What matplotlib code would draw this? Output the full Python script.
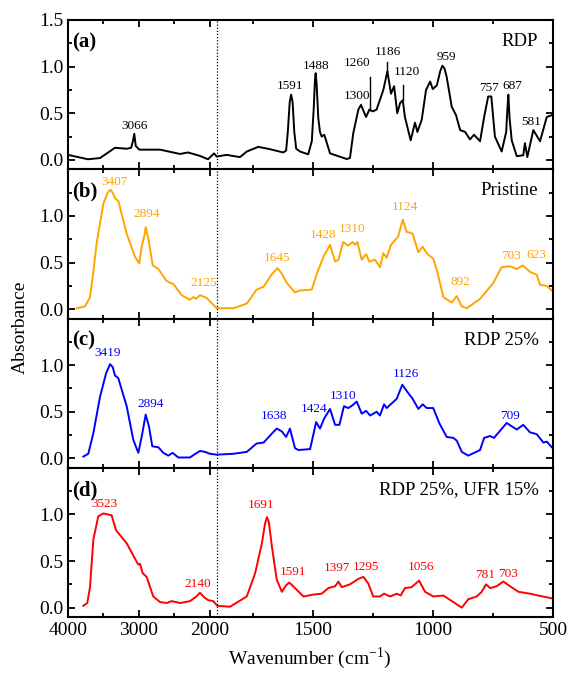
import numpy as np
import matplotlib
matplotlib.use("Agg")
import matplotlib.pyplot as plt
from matplotlib.ticker import FixedLocator, NullFormatter

plt.rcParams['font.family'] = ['Liberation Serif', 'DejaVu Serif']
plt.rcParams['mathtext.fontset'] = 'custom'
plt.rcParams['mathtext.rm'] = 'Liberation Serif'

# ---------------- data ----------------
wn_a = [4000, 3718, 3549, 3338, 3173, 3110, 3085, 3066, 3045, 2995, 2703, 2421, 2309, 2140, 2027, 1942, 1905,
        1860, 1804, 1776, 1728, 1679, 1624, 1612, 1605, 1597, 1591, 1585, 1578, 1570, 1554, 1520, 1505,
        1497, 1492, 1489, 1485, 1478, 1471, 1464, 1453, 1429, 1360, 1346, 1332, 1311, 1300, 1279, 1265,
        1251, 1235, 1207, 1190, 1175, 1162, 1149, 1137, 1126, 1117, 1093, 1075, 1065, 1047, 1029, 1012,
        1001, 984, 970, 961, 952, 943, 922, 904, 887, 866, 846, 829, 804, 787, 770, 757, 742, 714, 695,
        690, 686, 681, 672, 651, 624, 617, 607, 582, 554, 526, 505]
ab_a = [0.054, 0.007, 0.02, 0.13, 0.12, 0.13, 0.20, 0.28, 0.15, 0.11, 0.11, 0.064, 0.08, 0.043, 0.007, 0.07, 0.036,
        0.054, 0.03, 0.09, 0.14, 0.115, 0.08, 0.10, 0.30, 0.62, 0.70, 0.62, 0.30, 0.12, 0.09, 0.06, 0.20,
        0.55, 0.85, 0.93, 0.82, 0.45, 0.30, 0.25, 0.27, 0.07, 0.01, 0.02, 0.29, 0.54, 0.59, 0.46, 0.54,
        0.52, 0.54, 0.75, 0.95, 0.71, 0.79, 0.50, 0.61, 0.64, 0.46, 0.21, 0.40, 0.30, 0.43, 0.75, 0.84,
        0.76, 0.80, 0.95, 1.01, 0.98, 0.89, 0.57, 0.48, 0.32, 0.30, 0.22, 0.27, 0.20, 0.46, 0.68, 0.68,
        0.25, 0.09, 0.30, 0.55, 0.70, 0.45, 0.21, 0.04, 0.05, 0.18, 0.03, 0.32, 0.20, 0.46, 0.48]

wn_b = [3877, 3760, 3690, 3640, 3596, 3502, 3440, 3399, 3365, 3338, 3291, 3173, 3056, 2995, 2962, 2920,
        2905, 2868, 2806, 2727, 2609, 2516, 2398, 2281, 2234, 2196, 2140, 2045, 1904, 1831, 1776, 1735,
        1706, 1670, 1648, 1630, 1609, 1575, 1554, 1505, 1484, 1457, 1429, 1408, 1394, 1374, 1353, 1335,
        1325, 1315, 1297, 1279, 1265, 1242, 1221, 1207, 1193, 1175, 1145, 1126, 1110, 1085, 1061, 1043,
        1026, 999, 984, 957, 922, 901, 880, 859, 804, 749, 714, 679, 651, 626, 596, 568, 554, 526, 505]
ab_b = [0.01, 0.03, 0.13, 0.42, 0.71, 1.13, 1.25, 1.28, 1.24, 1.19, 1.16, 0.81, 0.56, 0.49, 0.67, 0.80,
        0.88, 0.76, 0.47, 0.43, 0.30, 0.27, 0.15, 0.10, 0.13, 0.11, 0.15, 0.12, 0.01, 0.01, 0.06, 0.21,
        0.24, 0.38, 0.44, 0.38, 0.28, 0.18, 0.20, 0.21, 0.38, 0.56, 0.69, 0.51, 0.53, 0.72, 0.68, 0.72,
        0.69, 0.72, 0.53, 0.59, 0.51, 0.53, 0.45, 0.60, 0.55, 0.69, 0.78, 0.96, 0.83, 0.81, 0.61, 0.67,
        0.60, 0.54, 0.42, 0.13, 0.07, 0.14, 0.03, 0.01, 0.11, 0.28, 0.45, 0.46, 0.43, 0.47, 0.40, 0.37,
        0.26, 0.25, 0.20]

wn_c = [3784, 3714, 3643, 3549, 3464, 3408, 3370, 3338, 3291, 3173, 3080, 3009, 2962, 2905, 2858, 2812,
        2727, 2657, 2586, 2525, 2446, 2281, 2224, 2140, 2069, 2000, 1904, 1831, 1776, 1735, 1706, 1670,
        1651, 1630, 1612, 1596, 1575, 1561, 1512, 1487, 1471, 1453, 1429, 1408, 1390, 1371, 1353, 1335,
        1318, 1297, 1279, 1262, 1235, 1221, 1204, 1193, 1151, 1128, 1103, 1085, 1061, 1043, 1026, 999,
        974, 943, 915, 901, 880, 853, 804, 787, 762, 746, 693, 651, 624, 596, 568, 540, 526, 505]
ab_c = [0.02, 0.05, 0.27, 0.66, 0.91, 1.01, 0.98, 0.89, 0.86, 0.56, 0.20, 0.06, 0.23, 0.47, 0.34, 0.13,
        0.12, 0.06, 0.03, 0.06, 0.01, 0.01, 0.04, 0.08, 0.07, 0.05, 0.04, 0.05, 0.07, 0.16, 0.17, 0.27,
        0.32, 0.29, 0.23, 0.32, 0.11, 0.09, 0.10, 0.39, 0.32, 0.43, 0.53, 0.36, 0.36, 0.56, 0.54, 0.57,
        0.61, 0.48, 0.51, 0.46, 0.50, 0.46, 0.58, 0.54, 0.64, 0.79, 0.70, 0.64, 0.53, 0.58, 0.54, 0.54,
        0.38, 0.23, 0.22, 0.19, 0.07, 0.03, 0.09, 0.22, 0.24, 0.22, 0.38, 0.31, 0.36, 0.28, 0.26, 0.17,
        0.18, 0.12]

wn_d = [3784, 3728, 3690, 3643, 3573, 3502, 3385, 3323, 3173, 3080, 3009, 2985, 2948, 2892, 2798,
        2703, 2609, 2539, 2421, 2281, 2190, 2140, 2080, 2022, 1952, 1899, 1846, 1776, 1741, 1713, 1700,
        1692, 1684, 1671, 1651, 1630, 1612, 1599, 1575, 1540, 1499, 1464, 1436, 1408, 1394, 1380, 1346,
        1310, 1290, 1270, 1249, 1221, 1204, 1179, 1151, 1135, 1117, 1089, 1058, 1033, 999, 957, 915,
        880, 853, 818, 797, 779, 762, 735, 707, 679, 644, 596, 561, 505]
ab_d = [0.02, 0.05, 0.22, 0.73, 0.98, 1.01, 0.99, 0.83, 0.69, 0.56, 0.46, 0.47, 0.37, 0.33, 0.12,
        0.06, 0.05, 0.07, 0.05, 0.07, 0.12, 0.16, 0.11, 0.08, 0.07, 0.02, 0.01, 0.12, 0.37, 0.69, 0.90,
        0.97, 0.92, 0.65, 0.30, 0.17, 0.24, 0.27, 0.21, 0.12, 0.14, 0.15, 0.21, 0.23, 0.28, 0.22, 0.25,
        0.31, 0.33, 0.26, 0.12, 0.12, 0.15, 0.12, 0.15, 0.13, 0.21, 0.22, 0.29, 0.17, 0.12, 0.13, 0.06,
        0.00, 0.09, 0.12, 0.17, 0.25, 0.21, 0.23, 0.28, 0.23, 0.17, 0.15, 0.13, 0.10]

# peak labels: (text, x, y)
labels_a = [("3066", 3060, 0.36), ("1591", 1595, 0.79), ("1488", 1487, 1.01), ("1260", 1318, 1.04),
            ("1300", 1315, 0.68), ("1186", 1186, 1.16), ("1120", 1107, 0.94), ("959", 943, 1.10),
            ("757", 767, 0.77), ("687", 669, 0.79), ("581", 589, 0.41)]
lines_a = [(1262, 0.54, 0.89), (1190, 0.95, 1.05), (1124, 0.64, 0.80)]
labels_b = [("3407", 3349, 1.36), ("2894", 2891, 1.02), ("2125", 2093, 0.28), ("1645", 1648, 0.55),
            ("1428", 1456, 0.79), ("1310", 1339, 0.86), ("1124", 1117, 1.09), ("892", 886, 0.29),
            ("703", 673, 0.57), ("623", 570, 0.58)]
labels_c = [("3419", 3436, 1.13), ("2894", 2840, 0.58), ("1638", 1664, 0.45), ("1424", 1495, 0.53),
            ("1310", 1376, 0.67), ("1126", 1111, 0.90), ("709", 681, 0.46)]
labels_d = [("3523", 3493, 1.11), ("2140", 2168, 0.25), ("1691", 1716, 1.10), ("1591", 1583, 0.38),
            ("1397", 1401, 0.42), ("1295", 1278, 0.44), ("1056", 1049, 0.44), ("781", 783, 0.35),
            ("703", 689, 0.36)]

panel_tags = ["(a)", "(b)", "(c)", "(d)"]
names = ["RDP", "Pristine", "RDP 25%", "RDP 25%, UFR 15%"]
colors = ["black", "#FFA500", "#0000FF", "#FF0000"]
x_break = 1900

# ---------------- scale ----------------
k = (149.0 / 2100.0) / (336.0 / 1400.0)


def fwd(x):
    x = np.asarray(x, dtype=float)
    return np.where(x >= x_break, x_break + (x - x_break) * k, x)


def inv(y):
    y = np.asarray(y, dtype=float)
    return np.where(y >= x_break, x_break + (y - x_break) / k, y)


fig = plt.figure(figsize=(5.69, 6.74), dpi=100)
gs = fig.add_gridspec(4, 1, left=68 / 569, right=553 / 569, top=1 - 20 / 674, bottom=1 - 617 / 674, hspace=0)
axes = [fig.add_subplot(gs[i]) for i in range(4)]

series = [(wn_a, ab_a, labels_a), (wn_b, ab_b, labels_b), (wn_c, ab_c, labels_c), (wn_d, ab_d, labels_d)]

for i, ax in enumerate(axes):
    wn, ab, labs = series[i]
    ax.set_xscale('function', functions=(fwd, inv))
    ax.plot(wn, ab, color=colors[i], lw=1.4)
    ax.set_xlim(4000, 500)
    ax.set_ylim(-0.1, 1.5)
    ax.axvline(x_break, color='black', ls=(0, (1, 1.5)), lw=0.9)
    for t, x, y in labs:
        ax.text(x, y, t, color=colors[i], fontsize=9.5, ha='center', va='center')
    ax.text(0.008, 0.85, panel_tags[i], transform=ax.transAxes, fontsize=15, fontweight='bold',
            ha='left', va='center')
    ax.text(0.97, 0.855, names[i], transform=ax.transAxes, fontsize=13.5, ha='right', va='center')
    ax.xaxis.set_major_locator(FixedLocator([4000, 3000, 2000, 1500, 1000, 500]))
    ax.xaxis.set_minor_locator(FixedLocator([3500, 2500, 1750, 1250, 750]))
    ax.xaxis.set_minor_formatter(NullFormatter())
    if i == 0:
        ax.yaxis.set_major_locator(FixedLocator([0.0, 0.5, 1.0, 1.5]))
        ax.set_yticklabels(["0.0", "0.5", "1.0", "1.5"])
    else:
        ax.yaxis.set_major_locator(FixedLocator([0.0, 0.5, 1.0]))
        ax.set_yticklabels(["0.0", "0.5", "1.0"])
    ax.yaxis.set_minor_locator(FixedLocator([0.25, 0.75, 1.25]))
    ax.tick_params(which='both', direction='in', top=True, right=True, width=1.3, labelsize=14)
    ax.tick_params(which='major', length=5)
    ax.tick_params(which='minor', length=3)
    for s in ax.spines.values():
        s.set_linewidth(1.5)
    if i < 3:
        ax.tick_params(labelbottom=False)
    else:
        ax.set_xticklabels(["4000", "3000", "2000", "1500", "1000", "500"])

for x, y0, y1 in lines_a:
    axes[0].plot([x, x], [y0, y1], color='black', lw=1.0)

fig.text(310 / 569, 1 - 658 / 674, r"Wavenumber (cm$^{-1}$)", fontsize=14, ha='center', va='center')
fig.text(20 / 569, 1 - 327 / 674, "Absorbance", rotation=90, fontsize=14, ha='center', va='center')

fig.savefig("out.png", dpi=100)
